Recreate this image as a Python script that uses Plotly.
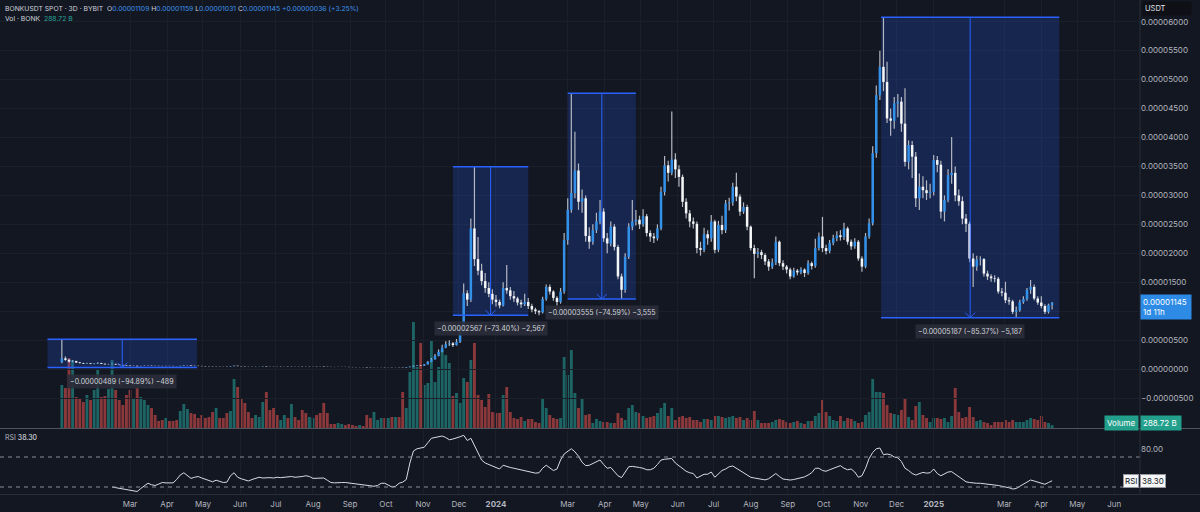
import pandas as pd
import plotly.graph_objects as go

# ---------------- data (prices in micro-USDT, 1e-6) ----------------
first_date = "2023-01-03"      # first 3D candle
candle_freq = "3D"
first_open = 1.20

close_u = [
    1.85, 1.60, 1.30, 1.38, 1.15, 1.05, 0.95, 1.00, 0.90, 0.95,
    1.05, 0.92, 0.82, 0.85, 0.90, 0.80, 0.72, 0.66, 0.60, 0.55,
    0.57, 0.50, 0.54, 0.57, 0.60, 0.57, 0.55, 0.54, 0.53, 0.55,
    0.54, 0.52, 0.51, 0.56, 0.62, 0.64, 0.58, 0.56, 0.54, 0.52,
    0.50, 0.49, 0.47, 0.49, 0.47, 0.46, 0.45, 0.50, 0.58, 0.53,
    0.50, 0.48, 0.47, 0.46, 0.47, 0.48, 0.51, 0.47, 0.46, 0.45,
    0.44, 0.45, 0.46, 0.45, 0.48, 0.47, 0.46, 0.45, 0.44, 0.45,
    0.46, 0.44, 0.43, 0.40, 0.38, 0.37, 0.36, 0.37, 0.38, 0.37,
    0.36, 0.35, 0.34, 0.35, 0.34, 0.31, 0.29, 0.31, 0.32, 0.33,
    0.31, 0.32, 0.30, 0.31, 0.29, 0.26, 0.33, 0.42, 0.55, 0.62,
    0.58, 0.80, 1.25, 1.70, 2.30, 3.00, 3.70, 4.30, 4.45, 4.15,
    4.70, 6.60, 13.1, 12.0, 24.3, 19.0, 17.0, 15.2, 14.0, 13.0,
    12.0, 11.6, 11.0, 14.0, 13.6, 12.6, 12.2, 11.5, 11.2, 11.6,
    10.9, 10.3, 10.0, 9.8, 12.1, 14.2, 13.4, 12.3, 11.6, 13.4,
    22.3, 27.5, 30.4, 34.3, 28.9, 29.5, 23.0, 22.0, 24.0, 25.5,
    27.2, 22.6, 21.7, 24.6, 21.1, 16.0, 13.7, 19.4, 24.6, 25.5,
    25.8, 25.0, 26.4, 23.5, 22.9, 22.6, 24.3, 30.6, 35.2, 33.9,
    36.2, 34.5, 33.2, 28.9, 26.9, 25.5, 25.1, 20.9, 20.6, 23.3,
    22.6, 25.5, 20.6, 24.9, 24.0, 28.6, 28.8, 31.5, 29.8, 27.2,
    28.0, 24.6, 20.9, 19.9, 20.2, 19.7, 18.6, 17.7, 18.4, 22.0,
    18.3, 17.7, 17.2, 16.0, 17.0, 16.7, 17.2, 16.6, 18.3, 17.8,
    20.9, 22.9, 20.9, 20.4, 21.8, 22.6, 23.1, 22.8, 24.3, 22.0,
    21.2, 22.0, 19.1, 17.7, 22.9, 25.2, 37.3, 47.3, 52.2, 49.6,
    43.3, 42.9, 45.9, 46.2, 42.4, 35.8, 38.7, 36.7, 29.5, 31.5,
    30.9, 30.4, 30.6, 36.1, 35.3, 27.2, 29.2, 33.5, 33.9, 30.0,
    29.0, 26.0, 25.1, 19.1, 17.7, 18.9, 19.0, 16.5, 16.0, 15.7,
    15.6, 13.4, 13.2, 11.9, 11.7, 9.9, 10.2, 11.6, 12.1, 13.7,
    14.2, 12.2, 11.5, 10.9, 9.9, 11.09, 11.45,
]

high_u = [
    5.15, 2.20, 1.75, 1.55, 1.45, 1.25, 1.10, 1.10, 1.05, 1.02,
    1.20, 1.08, 0.95, 0.92, 0.98, 0.92, 0.82, 0.75, 0.68, 0.62,
    0.62, 0.58, 0.58, 0.61, 0.64, 0.62, 0.59, 0.57, 0.56, 0.58,
    0.57, 0.56, 0.54, 0.59, 0.68, 0.68, 0.65, 0.60, 0.58, 0.56,
    0.54, 0.52, 0.50, 0.52, 0.50, 0.49, 0.48, 0.54, 0.64, 0.60,
    0.55, 0.52, 0.50, 0.49, 0.50, 0.51, 0.55, 0.53, 0.49, 0.48,
    0.47, 0.48, 0.49, 0.48, 0.51, 0.50, 0.49, 0.48, 0.47, 0.48,
    0.49, 0.48, 0.46, 0.44, 0.42, 0.40, 0.39, 0.40, 0.41, 0.40,
    0.39, 0.38, 0.37, 0.38, 0.37, 0.35, 0.32, 0.33, 0.34, 0.36,
    0.34, 0.34, 0.33, 0.33, 0.32, 0.30, 0.36, 0.46, 0.62, 0.70,
    0.72, 0.88, 1.40, 1.90, 2.60, 3.40, 4.20, 4.80, 5.00, 4.70,
    5.20, 7.00, 14.8, 13.6, 26.0, 34.97, 22.8, 18.2, 16.6, 15.0,
    13.8, 12.8, 12.0, 15.0, 18.0, 14.2, 13.5, 12.5, 12.0, 13.0,
    12.3, 11.3, 10.6, 10.2, 12.5, 14.6, 14.6, 13.6, 12.6, 14.0,
    23.5, 29.5, 47.66, 41.0, 35.5, 31.0, 30.0, 24.5, 25.0, 27.0,
    29.2, 27.8, 23.5, 25.5, 25.0, 21.5, 16.5, 20.0, 25.2, 29.2,
    27.5, 26.5, 27.6, 26.8, 24.0, 23.5, 25.0, 31.5, 36.8, 36.0,
    44.5, 37.3, 35.2, 33.6, 29.5, 27.5, 26.2, 25.5, 22.0, 24.4,
    24.0, 26.6, 25.8, 25.6, 26.5, 29.2, 29.6, 32.2, 33.9, 30.2,
    28.8, 28.4, 24.8, 21.5, 20.9, 20.6, 20.0, 19.0, 19.1, 22.9,
    22.2, 18.8, 18.0, 17.5, 17.5, 17.3, 17.6, 17.4, 18.8, 18.6,
    22.5, 23.6, 26.3, 21.5, 22.3, 23.2, 23.8, 24.0, 25.3, 24.6,
    22.4, 22.6, 22.3, 19.5, 23.5, 26.0, 38.5, 49.0, 55.0, 60.76,
    53.1, 45.0, 47.0, 47.5, 47.0, 48.5, 39.5, 39.4, 37.5, 33.8,
    33.3, 32.6, 32.0, 37.0, 36.8, 36.0, 30.0, 34.5, 40.1, 35.0,
    31.0, 29.8, 26.8, 25.5, 20.0, 19.6, 19.5, 19.2, 17.0, 16.4,
    16.2, 15.9, 14.0, 15.1, 12.4, 12.0, 10.8, 12.0, 12.6, 14.0,
    15.4, 14.6, 12.6, 12.6, 11.2, 11.3, 11.59,
]

low_u = [
    1.00, 1.45, 1.15, 1.20, 1.05, 0.95, 0.88, 0.90, 0.85, 0.86,
    0.90, 0.88, 0.78, 0.78, 0.82, 0.76, 0.68, 0.62, 0.56, 0.50,
    0.52, 0.46, 0.48, 0.52, 0.55, 0.54, 0.52, 0.51, 0.50, 0.51,
    0.51, 0.49, 0.48, 0.50, 0.55, 0.60, 0.55, 0.53, 0.51, 0.49,
    0.47, 0.46, 0.44, 0.45, 0.45, 0.44, 0.42, 0.44, 0.49, 0.51,
    0.48, 0.46, 0.45, 0.44, 0.44, 0.46, 0.47, 0.45, 0.44, 0.43,
    0.42, 0.43, 0.44, 0.43, 0.44, 0.45, 0.44, 0.43, 0.42, 0.43,
    0.44, 0.42, 0.41, 0.38, 0.36, 0.35, 0.34, 0.35, 0.36, 0.35,
    0.34, 0.33, 0.32, 0.33, 0.32, 0.29, 0.27, 0.28, 0.30, 0.31,
    0.29, 0.30, 0.28, 0.29, 0.27, 0.24, 0.25, 0.32, 0.40, 0.52,
    0.52, 0.56, 0.78, 1.18, 1.60, 2.20, 2.90, 3.60, 4.00, 3.80,
    4.05, 4.50, 6.40, 10.9, 11.6, 17.8, 16.2, 14.5, 13.2, 12.4,
    11.2, 10.8, 10.5, 10.8, 13.0, 12.0, 11.6, 11.0, 10.6, 10.9,
    10.4, 9.8, 9.5, 9.30, 9.6, 11.8, 12.9, 11.8, 11.0, 11.3,
    13.0, 21.5, 27.0, 29.5, 27.5, 27.0, 22.0, 20.8, 21.5, 23.5,
    25.0, 22.0, 20.0, 21.2, 20.5, 15.5, 12.11, 13.2, 19.0, 24.0,
    24.8, 24.2, 24.6, 22.9, 22.0, 21.8, 22.2, 24.0, 30.0, 32.4,
    33.5, 33.0, 31.5, 28.0, 26.0, 24.5, 24.3, 20.0, 19.6, 20.2,
    21.5, 22.0, 20.0, 20.2, 23.3, 23.5, 27.4, 28.2, 29.0, 26.5,
    26.8, 24.0, 20.5, 15.7, 19.2, 19.0, 18.0, 17.0, 17.3, 18.0,
    17.8, 17.1, 16.5, 15.5, 15.8, 16.2, 16.4, 15.9, 16.3, 17.2,
    17.5, 20.5, 20.2, 19.8, 20.0, 21.4, 22.1, 22.2, 22.3, 21.5,
    20.6, 20.8, 18.7, 16.8, 17.4, 22.5, 24.8, 36.5, 46.5, 48.0,
    42.5, 40.3, 41.5, 43.5, 41.0, 35.0, 34.5, 33.0, 28.0, 27.5,
    29.5, 29.2, 29.5, 30.0, 34.0, 26.0, 25.5, 28.8, 32.0, 29.0,
    28.2, 25.0, 23.7, 18.5, 14.2, 17.0, 17.9, 16.0, 15.4, 15.1,
    15.0, 13.0, 12.6, 11.4, 11.1, 9.5, 8.89, 9.9, 11.3, 11.8,
    13.0, 11.9, 11.1, 10.5, 9.5, 9.6, 10.31,
]

# volume in billions of BONK
volume_b = [
    4300, 4000, 7000, 6800, 3100, 3000, 2600, 3300, 2800, 3800,
    5800, 3100, 3200, 3900, 6800, 3800, 2800, 2300, 3300, 3800,
    3000, 4000, 3100, 2800, 2300, 2000, 1300, 700, 800, 1000,
    700, 700, 800, 1700, 2400, 1900, 1500, 1400, 1000, 1300,
    1000, 1100, 1600, 2000, 1000, 1000, 1500, 1700, 4900, 4100,
    3000, 2500, 1600, 1000, 1300, 1100, 2600, 3600, 1800, 2000,
    1300, 800, 1300, 1000, 2400, 1100, 800, 1800, 1500, 1100,
    1000, 1300, 1500, 2500, 1500, 400, 400, 500, 400, 300,
    400, 300, 200, 300, 200, 1300, 1000, 1600, 800, 1000,
    1000, 1000, 1100, 1100, 1100, 3600, 2000, 5600, 10600, 6100,
    8500, 4300, 4500, 8800, 4600, 6100, 7800, 7300, 6500, 3200,
    3500, 2500, 5000, 4600, 6800, 8500, 3300, 2800, 2100, 3400,
    1600, 1500, 1500, 3300, 4100, 1600, 1000, 900, 1100, 700,
    900, 900, 600, 500, 3000, 2000, 1300, 1000, 900, 1000,
    7100, 5300, 7800, 3500, 2000, 3000, 1300, 1400, 500, 900,
    700, 600, 600, 500, 500, 1500, 1000, 800, 2000, 2300,
    1600, 1500, 1200, 1000, 1100, 1200, 1500, 2000, 2500, 1200,
    2000, 800, 1100, 1200, 1000, 1100, 800, 800, 600, 900,
    900, 800, 1200, 1200, 1100, 1000, 1100, 1200, 1000, 1100,
    800, 1000, 800, 1700, 800, 500, 500, 500, 600, 800,
    900, 800, 600, 500, 600, 700, 500, 400, 700, 700,
    1200, 1500, 2800, 1600, 1200, 800, 700, 1200, 700, 1000,
    900, 700, 500, 600, 1300, 1600, 4900, 3600, 3600, 3500,
    2300, 1500, 1400, 1300, 1800, 3000, 1100, 800, 2200, 2600,
    1300, 1000, 600, 1000, 1000, 900, 1000, 600, 1200, 4000,
    1600, 1000, 1100, 2100, 1100, 700, 800, 600, 500, 300,
    600, 600, 600, 800, 600, 800, 600, 600, 600, 800,
    1000, 900, 800, 1200, 600, 500, 288.72,
]

rsi_start_index = 14
rsi_values = [
    30, 29, 28.5, 28, 27, 26, 25, 24, 28, 32,
    35, 33, 32, 34, 36, 35.5, 35, 35.5, 40, 46,
    49, 45, 41.5, 43, 44, 42, 40, 38, 37, 39,
    37, 36, 36.5, 45, 49, 43, 41, 39, 38, 40,
    42, 43, 42, 42.5, 42.5, 42, 43, 42.5, 43, 44.5,
    44, 43, 43, 44, 45, 44, 41.5, 41.5, 42.5, 42,
    39, 36, 35.5, 36, 36, 36, 35.5, 35, 34, 33,
    32.5, 32, 31.5, 31, 32, 35, 35, 33, 30, 31,
    35, 36.5, 40, 62, 78, 81, 82, 83, 89, 95,
    96, 97, 98, 96, 93, 94, 95, 97, 99, 92,
    95, 85, 76, 66, 62, 60, 57, 55, 54, 59,
    57, 56, 55, 54, 53, 52, 51, 49.5, 48.5, 49,
    55, 59, 56, 52, 54, 66, 74, 78, 81, 77,
    71, 63, 58.5, 59, 61.5, 64, 66, 60, 55, 56,
    50, 45, 42.5, 50, 57, 57.5, 57, 56, 55, 53,
    53, 55, 60, 66, 67, 68, 68, 62, 58, 54,
    51, 49, 48, 42, 44, 47, 47, 50, 43, 47,
    52, 54, 57, 58, 55, 52, 49, 46, 43, 42,
    41, 40, 39.5, 41, 44, 48, 44, 40.6, 40, 39.3,
    40, 41, 42, 43.5, 46, 49, 55, 55, 52, 51,
    53, 55, 57, 58.5, 55, 53, 54, 50, 43, 45,
    55, 68, 76, 81, 82, 73, 74, 73, 70, 69,
    64, 55, 52, 48, 46, 48, 49.5, 48.5, 49, 54,
    48, 45, 47, 50, 50.5, 47, 44, 40, 37, 36,
    35, 35, 35, 34.5, 34, 34, 33.5, 32, 31, 30.4,
    29, 27.3, 28, 31, 34, 37, 39.3, 38, 36.5, 35,
    33.6, 36, 38.3,
]
rsi_levels = [70, 30]

month_ticks = ["2023-03-01", "2023-04-01", "2023-05-01", "2023-06-01", "2023-07-01",
               "2023-08-01", "2023-09-01", "2023-10-01", "2023-11-01", "2023-12-01",
               "2024-01-01", "2024-03-01", "2024-04-01", "2024-05-01", "2024-06-01",
               "2024-07-01", "2024-08-01", "2024-09-01", "2024-10-01", "2024-11-01",
               "2024-12-01", "2025-01-01", "2025-03-01", "2025-04-01", "2025-05-01",
               "2025-06-01"]
month_labels = ["Mar", "Apr", "May", "Jun", "Jul", "Aug", "Sep", "Oct", "Nov", "Dec",
                "<b>2024</b>", "Mar", "Apr", "May", "Jun", "Jul", "Aug", "Sep", "Oct", "Nov",
                "Dec", "<b>2025</b>", "Mar", "Apr", "May", "Jun"]

price_ticks_u = [-10, -5, 0, 5, 10, 15, 20, 25, 30, 35, 40, 45, 50, 55, 60]
price_labels = ["", "−0.00000500", "0.00000000", "0.00000500", "",
                "0.00001500", "0.00002000", "0.00002500", "0.00003000", "0.00003500",
                "0.00004000", "0.00004500", "0.00005000", "0.00005500", "0.00006000"]

measure_boxes = [
    dict(start="2022-12-22", end="2023-04-26", top=5.153, bottom=0.263,
         text="−0.00000489 (−94.89%) −489"),
    dict(start="2023-11-26", end="2024-01-28", top=34.97, bottom=9.30,
         text="−0.00002567 (−73.40%) −2,567"),
    dict(start="2024-03-01", end="2024-04-27", top=47.66, bottom=12.11,
         text="−0.00003555 (−74.59%) −3,555"),
    dict(start="2024-11-18", end="2025-04-16", top=60.76, bottom=8.89,
         text="−0.00005187 (−85.37%) −5,187"),
]

last_price_text = "0.00001145"
countdown_text = "1d 11h"
last_volume_text = "288.72 B"
last_rsi_text = "38.30"

# ---------------- styling ----------------
W, H = 1200, 512
BG = "#131722"
GRID = "#1b1f2a"
TXT = "#b2b5be"
UP = "#3391ea"
DOWN = "#f4f5f7"
WICK = "#b4b8c2"
VOL_UP = "rgba(38,166,154,0.55)"
VOL_DOWN = "rgba(239,83,80,0.55)"
BOX_FILL = "rgba(41,98,255,0.20)"
BOX_LINE = "#2962ff"
FONT = "Inter, Roboto, sans-serif"
U = 1e-6
DAY_MS = 86400000
STEP_MS = 3 * DAY_MS

def px_x(x):
    return x / W

def px_y(y):
    return 1 - y / H

dates = pd.date_range(first_date, periods=len(close_u), freq=candle_freq)
open_u = [first_open] + close_u[:-1]
is_up = [c >= o for o, c in zip(open_u, close_u)]
vol_colors = [VOL_UP if u else VOL_DOWN for u in is_up]
body_colors = [UP if u else DOWN for u in is_up]
body_base = [min(o, c) * U for o, c in zip(open_u, close_u)]
body_len = [abs(c - o) * U for o, c in zip(open_u, close_u)]
wick_base = [lo * U for lo in low_u]
wick_len = [(hi - lo) * U for hi, lo in zip(high_u, low_u)]

fig = go.Figure()
# volume (bottom overlay of the price pane)
fig.add_trace(go.Bar(x=dates, y=volume_b, width=0.8 * STEP_MS,
                     marker=dict(color=vol_colors, line=dict(width=0)),
                     xaxis="x", yaxis="y", hoverinfo="skip", showlegend=False))
# candle wicks
fig.add_trace(go.Bar(x=dates, y=wick_len, base=wick_base, width=1.0 * DAY_MS,
                     marker=dict(color=WICK, line=dict(width=0)),
                     xaxis="x", yaxis="y2", hoverinfo="skip", showlegend=False))
# candle bodies
fig.add_trace(go.Bar(x=dates, y=body_len, base=body_base, width=0.7 * STEP_MS,
                     marker=dict(color=body_colors, line=dict(width=0)),
                     xaxis="x", yaxis="y2", hoverinfo="skip", showlegend=False))
# RSI
fig.add_trace(go.Scatter(x=dates[rsi_start_index:], y=rsi_values, mode="lines",
                         line=dict(color="#d8dbe2", width=1), xaxis="x2", yaxis="y3",
                         hoverinfo="skip", showlegend=False))

x_range = ["2022-11-12 07:00", "2025-06-22 12:00"]
price_top_px, price_bot_px = 0, 428
rsi_top_px, rsi_bot_px = 430, 494

fig.update_layout(
    width=W, height=H, autosize=False,
    margin=dict(l=0, r=0, t=0, b=0),
    paper_bgcolor=BG, plot_bgcolor="rgba(0,0,0,0)",
    font=dict(family=FONT, color=TXT, size=8),
    barmode="overlay", showlegend=False, hovermode=False,
    xaxis=dict(domain=[0, 0.95], range=x_range, type="date", anchor="y2",
               tickvals=month_ticks, showticklabels=False, showgrid=True,
               gridcolor=GRID, zeroline=False, showline=False,
               rangeslider=dict(visible=False)),
    xaxis2=dict(domain=[0, 0.95], range=x_range, type="date", anchor="y3", matches="x",
                tickvals=month_ticks, ticktext=month_labels, showgrid=True, gridcolor=GRID,
                zeroline=False, showline=False, ticks="outside", ticklen=2,
                tickcolor="rgba(0,0,0,0)", tickfont=dict(size=8, color=TXT),
                rangeslider=dict(visible=False)),
    yaxis=dict(domain=[px_y(price_bot_px), px_y(318)], range=[0, 11000], anchor="x",
               visible=False, showgrid=False, zeroline=False),
    yaxis2=dict(domain=[px_y(price_bot_px), px_y(price_top_px)],
                range=[-10.17 * U, 63.75 * U], anchor="x", side="right",
                tickvals=[v * U for v in price_ticks_u], ticktext=price_labels,
                tickfont=dict(size=8, color=TXT), showgrid=True, gridcolor=GRID,
                zeroline=False, showline=False, ticks=""),
    yaxis3=dict(domain=[px_y(rsi_bot_px), px_y(rsi_top_px)], range=[20.67, 106],
                anchor="x2", side="right", tickvals=[80], ticktext=["80.00"],
                tickfont=dict(size=8, color=TXT), showgrid=False, zeroline=False,
                showline=False, ticks=""),
)

shapes = []
annotations = []
for b in measure_boxes:
    s = pd.Timestamp(b["start"])
    e = pd.Timestamp(b["end"])
    c = (s + (e - s) / 2).strftime("%Y-%m-%d %H:%M:%S")
    s_str, e_str = s.strftime("%Y-%m-%d"), e.strftime("%Y-%m-%d")
    shapes.append(dict(type="rect", xref="x", yref="y2", x0=s_str, x1=e_str,
                       y0=b["bottom"] * U, y1=b["top"] * U, fillcolor=BOX_FILL,
                       line=dict(width=0), layer="between"))
    for yv in (b["top"], b["bottom"]):
        shapes.append(dict(type="line", xref="x", yref="y2", x0=s_str, x1=e_str,
                           y0=yv * U, y1=yv * U, line=dict(color=BOX_LINE, width=1.5)))
    shapes.append(dict(type="line", xref="x", yref="y2", x0=c, x1=c,
                       y0=b["top"] * U, y1=b["bottom"] * U,
                       line=dict(color=BOX_LINE, width=1)))
    for dx in (-5, 5):
        shapes.append(dict(type="line", xref="x", yref="y2", xsizemode="pixel",
                           xanchor=c, ysizemode="pixel", yanchor=b["bottom"] * U,
                           x0=dx, x1=0, y0=5, y1=0, line=dict(color=BOX_LINE, width=1)))
    annotations.append(dict(x=c, y=b["bottom"] * U, xref="x", yref="y2", text=b["text"],
                            showarrow=False, xanchor="center", yanchor="top", yshift=-6,
                            font=dict(size=7, color="#d1d4dc"), bgcolor="rgba(42,46,57,0.92)",
                            borderpad=2))

for lvl in rsi_levels:
    shapes.append(dict(type="line", xref="x2 domain", yref="y3", x0=0, x1=1, y0=lvl, y1=lvl,
                       line=dict(color="#8a8d96", width=1, dash="4px,4px")))

# panel separators and price-scale border
shapes.append(dict(type="line", xref="paper", yref="paper", x0=0, x1=1,
                   y0=px_y(428.5), y1=px_y(428.5), line=dict(color="#50535e", width=1)))
shapes.append(dict(type="line", xref="paper", yref="paper", x0=0, x1=1,
                   y0=px_y(494.5), y1=px_y(494.5), line=dict(color="#2a2e39", width=1)))
shapes.append(dict(type="line", xref="paper", yref="paper", x0=0.95, x1=0.95,
                   y0=px_y(494.5), y1=1, line=dict(color="#2a2e39", width=1)))

BLUE_TXT = "#3d93ea"
NB = "\u00a0"
hdr1 = (f'<span style="color:#d1d4dc">BONKUSDT SPOT · 3D · BYBIT</span>{NB*2}'
        f'O<span style="color:{BLUE_TXT}">0.00001109</span>{NB}'
        f'H<span style="color:{BLUE_TXT}">0.00001159</span>{NB}'
        f'L<span style="color:{BLUE_TXT}">0.00001031</span>{NB}'
        f'C<span style="color:{BLUE_TXT}">0.00001145</span>{NB}'
        f'<span style="color:{BLUE_TXT}">+0.00000036 (+3.25%)</span>')
hdr2 = f'Vol · BONK{NB*2}<span style="color:#26a69a">{last_volume_text}</span>'
annotations += [
    dict(x=px_x(3), y=px_y(8), xref="paper", yref="paper", text=hdr1, showarrow=False,
         xanchor="left", yanchor="middle", font=dict(size=6.8, color="#d1d4dc")),
    dict(x=px_x(3), y=px_y(18), xref="paper", yref="paper", text=hdr2, showarrow=False,
         xanchor="left", yanchor="middle", font=dict(size=6.8, color="#d1d4dc")),
    dict(x=px_x(3), y=px_y(437), xref="paper", yref="paper",
         text=f'RSI{NB}<span style="color:#e6e8ee">{last_rsi_text}</span>', showarrow=False,
         xanchor="left", yanchor="middle", font=dict(size=7, color=TXT)),
    dict(x=px_x(1142), y=px_y(8.5), xref="paper", yref="paper", text="USDT", showarrow=False,
         xanchor="left", yanchor="middle", font=dict(size=7.5, color="#e0e3eb"),
         bgcolor="#0e1016", width=44, align="left", borderpad=2),
    dict(x=0.95, y=1.145e-5, xref="paper", yref="y2",
         text=f"{last_price_text}<br>{countdown_text}", showarrow=False,
         xanchor="left", yanchor="middle", yshift=-4, align="left", width=46,
         font=dict(size=8, color="#ffffff"), bgcolor="#2d8be6", borderpad=2),
    dict(x=0.95, y=px_y(422.5), xref="paper", yref="paper", text="Volume", showarrow=False,
         xanchor="right", yanchor="middle", xshift=-1, font=dict(size=8, color="#ffffff"),
         bgcolor="#22a08c", borderpad=2),
    dict(x=0.95, y=px_y(422.5), xref="paper", yref="paper", text=last_volume_text,
         showarrow=False, xanchor="left", yanchor="middle", font=dict(size=8, color="#ffffff"),
         bgcolor="#22a08c", borderpad=2, width=36, align="left"),
    dict(x=0.95, y=38.3, xref="paper", yref="y3", text="RSI", showarrow=False,
         xanchor="right", yanchor="middle", xshift=-1, font=dict(size=8, color="#131722"),
         bgcolor="#f5f6f8", bordercolor="#9598a1", borderwidth=1, borderpad=1),
    dict(x=0.95, y=38.3, xref="paper", yref="y3", text=last_rsi_text, showarrow=False,
         xanchor="left", yanchor="middle", font=dict(size=8, color="#131722"),
         bgcolor="#f5f6f8", bordercolor="#9598a1", borderwidth=1, borderpad=1),
]

fig.update_layout(shapes=shapes, annotations=annotations)
fig.write_html("out.html", config={"displayModeBar": False, "staticPlot": True},
               post_script="document.body.style.margin='0px';"
                           "document.body.style.background='#131722';")
